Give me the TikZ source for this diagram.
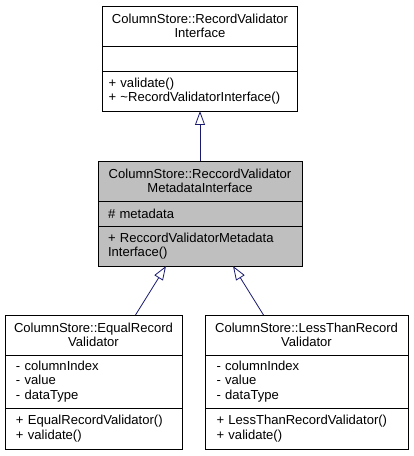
\documentclass[tikz,border=0pt]{standalone}
\usepackage{fontspec}
\setmainfont{Liberation Sans}
\usetikzlibrary{positioning,arrows.meta}
\definecolor{edgeblue}{HTML}{191970}
\definecolor{classgray}{HTML}{BFBFBF}

\begin{document}
\begin{tikzpicture}[x=1bp, y=-1bp, node distance=0pt,
    classtitle/.style={draw, rectangle, fill=white, line width=0.8bp, outer sep=0pt,
      inner sep=0pt, align=center, minimum height=40bp, font=\fontsize{13.1}{14.5}\selectfont},
    members/.style={draw, rectangle, fill=white, line width=0.8bp, outer sep=0pt,
      inner ysep=0pt, align=left, font=\fontsize{13.1}{14.5}\selectfont},
    edge/.style={draw=edgeblue, line width=0.8bp, -{Triangle[open, width=10bp, length=14bp]}}]
    \useasboundingbox (0,0) rectangle (413,456);

    \node (iface) [classtitle, minimum width=195bp] at (200,26) {ColumnStore::RecordValidator\\Interface};
    \node (ifaceattr) [members, below=of iface, text width=183bp, inner xsep=6bp, minimum height=25bp] {};
    \node (ifacemeth) [members, below=of ifaceattr, text width=183bp, inner xsep=6bp, minimum height=40bp] {+ validate()\\+ \textasciitilde RecordValidatorInterface()};

    \node (meta) [classtitle, fill=classgray, minimum width=204bp] at (200,181) {ColumnStore::ReccordValidator\\MetadataInterface};
    \node (metaattr) [members, fill=classgray, below=of meta, text width=184bp, inner xsep=10bp, minimum height=25bp] {\# metadata};
    \node (metameth) [members, fill=classgray, below=of metaattr, text width=184bp, inner xsep=10bp, minimum height=40bp] {+ ReccordValidatorMetadata\\Interface()};

    \node (equal) [classtitle, minimum width=177bp] at (93.5,335) {ColumnStore::EqualRecord\\Validator};
    \node (equalattr) [members, below=of equal, text width=155bp, inner xsep=11bp, minimum height=53bp] {- columnIndex\\- value\\- dataType};
    \node (equalmeth) [members, below=of equalattr, text width=155bp, inner xsep=11bp, minimum height=41bp] {+ EqualRecordValidator()\\+ validate()};

    \node (less) [classtitle, minimum width=203bp] at (306.5,335) {ColumnStore::LessThanRecord\\Validator};
    \node (lessattr) [members, below=of less, text width=180bp, inner xsep=11.5bp, minimum height=53bp] {- columnIndex\\- value\\- dataType};
    \node (lessmeth) [members, below=of lessattr, text width=180bp, inner xsep=11.5bp, minimum height=41bp] {+ LessThanRecordValidator()\\+ validate()};

    \draw[edge] (meta) -- (ifacemeth);
    \draw[edge] ([xshift=42bp]equal.north) -- ([xshift=-34bp]metameth.south);
    \draw[edge] ([xshift=-43bp]less.north) -- ([xshift=33bp]metameth.south);
\end{tikzpicture}
\end{document}
